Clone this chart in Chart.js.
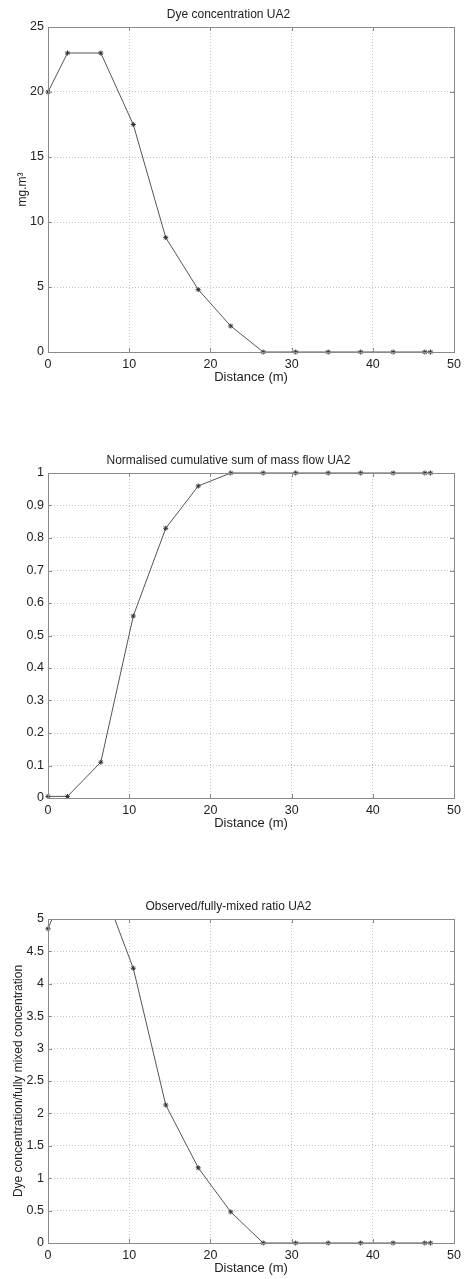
<!DOCTYPE html>
<html>
<head>
<meta charset="utf-8">
<script src="https://cdn.jsdelivr.net/npm/chart.js@4"></script>
<style>
  body { margin: 0; background: #fff; width: 466px; height: 1279px; position: relative; overflow: hidden; }
  canvas { position: absolute; left: 0; }
</style>
</head>
<body>
<canvas id="c1" width="466" height="388" style="top:0px"></canvas>
<canvas id="c2" width="466" height="388" style="top:446px"></canvas>
<canvas id="c3" width="466" height="387" style="top:892px"></canvas>
<script>
// sampling distances along the reach (m)
const distance = [0, 2.4, 6.5, 10.5, 14.5, 18.5, 22.5, 26.5, 30.5, 34.5, 38.5, 42.5, 46.4, 47.1];
// dye concentration (mg.m3)
const dyeConc = [20, 23, 23, 17.5, 8.8, 4.8, 2.0, 0, 0, 0, 0, 0, 0, 0];
// normalised cumulative mass flow
const cumMass = [0.005, 0.005, 0.11, 0.56, 0.83, 0.96, 1, 1, 1, 1, 1, 1, 1, 1];
// observed / fully mixed ratio
const mixRatio = [4.85, 5.57, 5.57, 4.24, 2.13, 1.16, 0.48, 0, 0, 0, 0, 0, 0, 0];

const xTicks = [0, 10, 20, 30, 40, 50];

const FONT = "'Liberation Sans', Arial, sans-serif";
const frameColor = '#8a8a8a';
const textColor = '#222';

// box round the plot + small inward ticks, matlab style
const framePlugin = {
  id: 'frame',
  afterDraw(chart) {
    const { ctx, chartArea: a, scales } = chart;
    ctx.save();
    ctx.strokeStyle = frameColor;
    ctx.lineWidth = 1;
    ctx.strokeRect(Math.round(a.left) + 0.5, Math.round(a.top) + 0.5,
      Math.round(a.right - a.left), Math.round(a.bottom - a.top));
    const t = 4;
    ctx.beginPath();
    scales.x.ticks.forEach(tk => {
      const px = Math.round(scales.x.getPixelForValue(tk.value)) + 0.5;
      ctx.moveTo(px, a.bottom); ctx.lineTo(px, a.bottom - t);
      ctx.moveTo(px, a.top); ctx.lineTo(px, a.top + t);
    });
    scales.y.ticks.forEach(tk => {
      const py = Math.round(scales.y.getPixelForValue(tk.value)) + 0.5;
      ctx.moveTo(a.left, py); ctx.lineTo(a.left + t, py);
      ctx.moveTo(a.right, py); ctx.lineTo(a.right - t, py);
    });
    ctx.stroke();
    ctx.restore();
  }
};

function makeChart(id, title, yLabel, yPad, values, yMax, yStep, clip) {
  const ctx = document.getElementById(id).getContext('2d');
  return new Chart(ctx, {
    type: 'line',
    data: {
      datasets: [{
        data: distance.map((d, i) => ({ x: d, y: values[i] })),
        borderColor: '#555',
        borderWidth: 1,
        pointStyle: 'star',
        pointRadius: 2.5,
        pointBorderColor: '#333',
        pointBorderWidth: 1,
        tension: 0,
        clip: clip
      }]
    },
    options: {
      responsive: false,
      animation: false,
      layout: { padding: { left: 0, right: 9, top: 0, bottom: 0 } },
      plugins: {
        legend: { display: false },
        tooltip: { enabled: false },
        title: {
          display: true,
          text: title,
          color: textColor,
          font: { family: FONT, size: 12, weight: 'normal' },
          padding: { top: 7, bottom: 5.6 }
        }
      },
      scales: {
        x: {
          type: 'linear',
          min: 0, max: 50,
          afterBuildTicks: (s) => { s.ticks = xTicks.map(v => ({ value: v })); },
          afterFit: (s) => { s.height = 388 - 352; },
          ticks: { color: textColor, font: { family: FONT, size: 12.5 }, padding: 5, maxRotation: 0 },
          grid: { color: '#c4c4c4', drawTicks: false, lineWidth: 1 },
          border: { display: false, dash: [1, 2] },
          title: {
            display: true, text: 'Distance (m)', color: textColor,
            font: { family: FONT, size: 13 }, padding: { top: 0, bottom: 3 }
          }
        },
        y: {
          type: 'linear',
          min: 0, max: yMax,
          afterFit: (s) => { s.width = 48; },
          ticks: {
            stepSize: yStep, color: textColor, font: { family: FONT, size: 12.5 }, padding: 4,
            callback: (v) => String(Number(v.toFixed(2)))
          },
          grid: { color: '#c4c4c4', drawTicks: false, lineWidth: 1 },
          border: { display: false, dash: [1, 2] },
          title: {
            display: yLabel !== '', text: yLabel, color: textColor,
            font: { family: FONT, size: 12 }, padding: { top: yPad, bottom: 0 }
          }
        }
      }
    },
    plugins: [framePlugin]
  });
}

makeChart('c1', 'Dye concentration UA2', 'mg.m\u00B3', 15, dyeConc, 25, 5,
  { left: 5, right: 5, top: 5, bottom: 5 });
makeChart('c2', 'Normalised cumulative sum of mass flow UA2', '', 0, cumMass, 1, 0.1,
  { left: 5, right: 5, top: 5, bottom: 5 });
makeChart('c3', 'Observed/fully-mixed ratio UA2', 'Dye concentration/fully mixed concentration', 11,
  mixRatio, 5, 0.5, { left: 5, right: 5, top: 0, bottom: 5 });
</script>
</body>
</html>
